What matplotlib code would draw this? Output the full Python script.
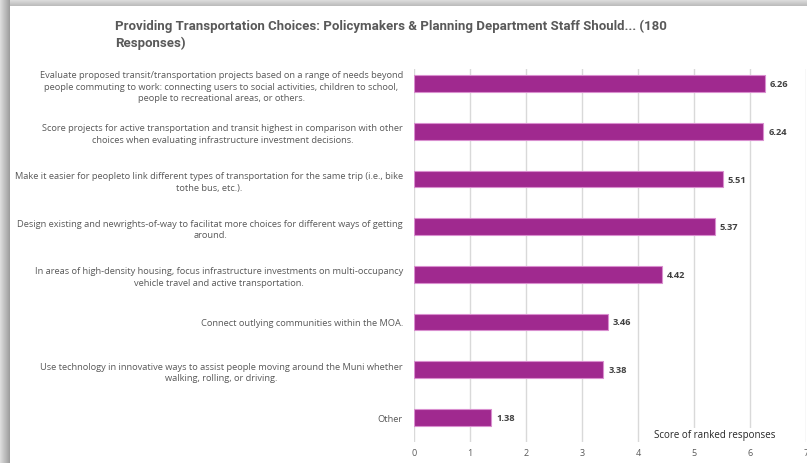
import matplotlib
matplotlib.use("Agg")
import matplotlib.pyplot as plt
from matplotlib import font_manager
import numpy as np

# data
categories = [
    "Evaluate proposed transit/transportation projects based on a range of needs beyond\n"
    "people commuting to work: connecting users to social activities, children to school,\n"
    "people to recreational areas, or others.",
    "Score projects for active transportation and transit highest in comparison with other\n"
    "choices when evaluating infrastructure investment decisions.",
    "Make it easier for peopleto link different types of transportation for the same trip (i.e., bike\n"
    "tothe bus, etc.).",
    "Design existing and newrights-of-way to facilitat more choices for different ways of getting\n"
    "around.",
    "In areas of high-density housing, focus infrastructure investments on multi-occupancy\n"
    "vehicle travel and active transportation.",
    "Connect outlying communities within the MOA.",
    "Use technology in innovative ways to assist people moving around the Muni whether\n"
    "walking, rolling, or driving.",
    "Other",
]
scores = [6.26, 6.24, 5.51, 5.37, 4.42, 3.46, 3.38, 1.38]
x_ticks = [0, 1, 2, 3, 4, 5, 6, 7]

title = "Providing Transportation Choices: Policymakers & Planning Department Staff Should... (180\nResponses)"

plt.rcParams['font.family'] = ['Open Sans', 'DejaVu Sans']

# narrow face for the title if it is there
names = {f.name for f in font_manager.fontManager.ttflist}
if 'Liberation Sans Narrow' in names:
    title_font, title_size = ['Liberation Sans Narrow', 'DejaVu Sans'], 11.1
else:
    title_font, title_size = ['Roboto', 'DejaVu Sans'], 9.5

W, H = 807, 464
fig = plt.figure(figsize=(W / 100, H / 100), dpi=100)
fig.patch.set_facecolor('white')

# shadow frame (left and top)
bg = fig.add_axes([0, 0, 1, 1], zorder=-5)
bg.set_xlim(0, W)
bg.set_ylim(H, 0)
bg.axis('off')
left_grad = np.linspace(0.86, 0.62, 10)[None, :]
bg.imshow(np.repeat(left_grad, 2, axis=0), cmap='gray', vmin=0, vmax=1,
          extent=(0, 10, H, 0), aspect='auto')
top_grad = np.linspace(0.88, 0.74, 7)[:, None]
bg.imshow(np.repeat(top_grad, 2, axis=1), cmap='gray', vmin=0, vmax=1,
          extent=(10, W, 7, 0), aspect='auto')

ax = fig.add_axes([414 / W, 1 - 443 / H, (806 - 414) / W, (443 - 70) / H])
y = np.arange(len(categories))
bars = ax.barh(y, scores, height=0.35, color='#A0298F', edgecolor='#D98FCF',
               linewidth=0.8, zorder=3)

for b, v in zip(bars, scores):
    ax.text(b.get_width() + 0.09, b.get_y() + b.get_height() / 2, f"{v:.2f}",
            va='center', ha='left', fontsize=6.7, fontweight='bold',
            color='#404040', zorder=4)

ax.set_xlim(0, 7)
ax.set_ylim(7.52, -0.31)
ax.set_xticks(x_ticks)
ax.set_xticklabels([str(t) for t in x_ticks], fontsize=6.5, color='#595959')
ax.set_yticks(y)
ax.set_yticklabels(categories, fontsize=6.7, color='#595959',
                   multialignment='center', linespacing=1.4)
ax.tick_params(axis='both', length=0)
ax.tick_params(axis='y', pad=8)
ax.tick_params(axis='x', pad=4)
ax.grid(axis='x', color='#D9D9D9', linewidth=1.0, zorder=0)
ax.set_axisbelow(True)
for s in ax.spines.values():
    s.set_visible(False)

ax.text(715 / W, 1 - 436 / H, "Score of ranked responses", transform=fig.transFigure,
        ha='center', va='center', fontsize=7, color='#262626',
        bbox=dict(facecolor='white', edgecolor='none', pad=1), zorder=5)

fig.text(115 / W, 1 - 20 / H, title, ha='left', va='top', fontsize=title_size,
         fontweight='bold', color='#595959', family=title_font, linespacing=1.35)

fig.savefig('out.png', dpi=100)
